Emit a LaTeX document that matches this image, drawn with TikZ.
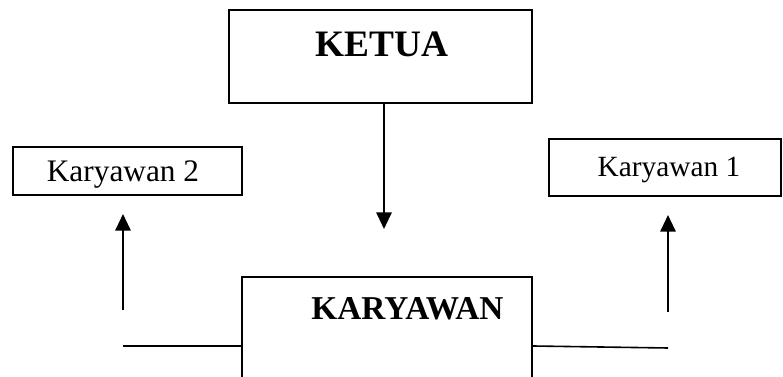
\documentclass[tikz,border=0pt]{standalone}
\usepackage{fontspec}
\setmainfont{Liberation Serif}
\usetikzlibrary{arrows.meta,positioning}

\begin{document}
\begin{tikzpicture}[x=0.75pt, y=-0.75pt,
    box/.style={rectangle, draw, line width=1.4pt, inner sep=0pt},
    head/.style={anchor=base, inner sep=0pt, font=\fontsize{28}{30}\selectfont\bfseries},
    sub/.style={anchor=base, inner sep=0pt, font=\fontsize{22}{24}\selectfont},
    link/.style={line width=1.5pt, -{Triangle[length=12.5pt, width=11.5pt]}},
    wire/.style={line width=1.2pt}
]
    \useasboundingbox (0,0) rectangle (783,377);
    \clip (0,0) rectangle (783,377);

    \node[box, minimum width=227.25pt, minimum height=69.75pt] (ketua) at (380.5,56.5) {};
    \node[box, minimum width=171.75pt, minimum height=36pt] (kary2) at (127.5,171) {};
    \node[box, minimum width=174pt, minimum height=42.75pt] (kary1) at (665,167.5) {};
    \node[box, minimum width=217.5pt, minimum height=92.25pt] (karyawan) at (387,338.5) {};

    \node[head] (ketuatext) at (382,57) {KETUA};
    \node[head, font=\fontsize{25}{27}\selectfont\bfseries] (karyawantext) at (407.5,320) {KARYAWAN};
    \node[sub, font=\fontsize{23.5}{25}\selectfont] (kary2text) at (123,182) {Karyawan 2};
    \node[sub] (kary1text) at (669,177) {Karyawan 1};

    \coordinate (drop) at (384,229);
    \coordinate (lend) at (123,346);
    \coordinate (rend) at (668,348);
    \coordinate (lfoot) at (123,310);
    \coordinate (ltip) at (123,214);
    \coordinate (rfoot) at (668,312);
    \coordinate (rtip) at (668,215);

    \draw[link] (ketua.south -| drop) -- (drop);
    \draw[wire] (karyawan.west |- lend) -- (lend);
    \draw[wire] (karyawan.east |- lend) -- (rend);
    \draw[link] (lfoot) -- (ltip);
    \draw[link] (rfoot) -- (rtip);
\end{tikzpicture}
\end{document}
